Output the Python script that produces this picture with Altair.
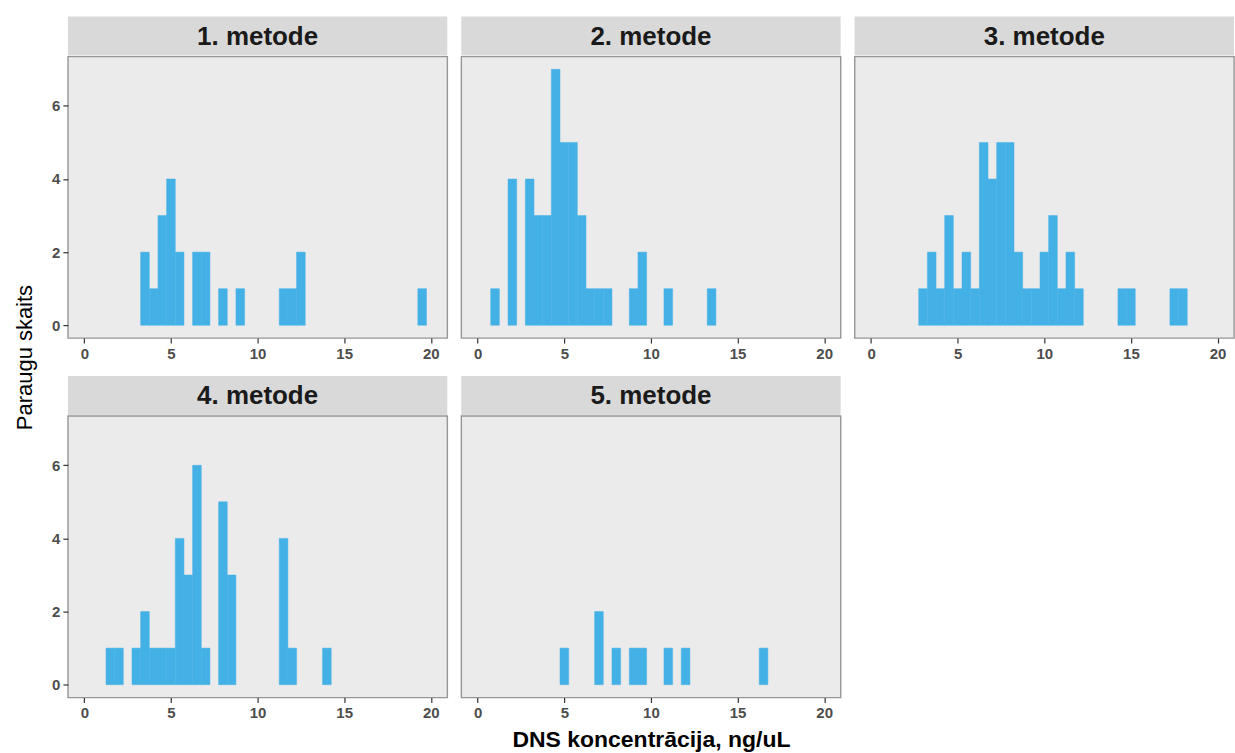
import altair as alt
import pandas as pd

FONT = "Liberation Sans"
BAR_COLOR = "#44B1E6"
W = 380
H = 282
BIN_HALF = 0.25

methods = ["1. metode", "2. metode", "3. metode", "4. metode", "5. metode"]

# histogram bin centres (ng/uL) and counts
centers_1 = [3.5, 4.0, 4.5, 5.0, 5.5, 6.5, 7.0, 8.0, 9.0, 11.5, 12.0, 12.5, 19.5]
counts_1 = [2, 1, 3, 4, 2, 2, 2, 1, 1, 1, 1, 2, 1]

centers_2 = [1.0, 2.0, 3.0, 3.5, 4.0, 4.5, 5.0, 5.5, 6.0, 6.5, 7.0, 7.5, 9.0, 9.5, 11.0, 13.5]
counts_2 = [1, 4, 4, 3, 3, 7, 5, 5, 3, 1, 1, 1, 1, 2, 1, 1]

centers_3 = [3.0, 3.5, 4.0, 4.5, 5.0, 5.5, 6.0, 6.5, 7.0, 7.5, 8.0, 8.5, 9.0, 9.5,
             10.0, 10.5, 11.0, 11.5, 12.0, 14.5, 15.0, 17.5, 18.0]
counts_3 = [1, 2, 1, 3, 1, 2, 1, 5, 4, 5, 5, 2, 1, 1, 2, 3, 1, 2, 1, 1, 1, 1, 1]

centers_4 = [1.5, 2.0, 3.0, 3.5, 4.0, 4.5, 5.0, 5.5, 6.0, 6.5, 7.0, 8.0, 8.5, 11.5, 12.0, 14.0]
counts_4 = [1, 1, 1, 2, 1, 1, 1, 4, 3, 6, 1, 5, 3, 4, 1, 1]

centers_5 = [5.0, 7.0, 8.0, 9.0, 9.5, 11.0, 12.0, 16.5]
counts_5 = [1, 2, 1, 1, 1, 1, 1, 1]

x_ticks = [0, 5, 10, 15, 20]
y_ticks = [0, 2, 4, 6]

all_centers = [centers_1, centers_2, centers_3, centers_4, centers_5]
all_counts = [counts_1, counts_2, counts_3, counts_4, counts_5]

x_scale = alt.Scale(domain=[-0.95, 20.95], nice=False, zero=False)
y_scale = alt.Scale(domain=[-0.35, 7.35], nice=False, zero=False)


def panel(i, show_y, y_title, x_title):
    df = pd.DataFrame({"center": all_centers[i], "count": all_counts[i]})
    x_axis = alt.Axis(values=x_ticks, title=x_title, titleX=W / 2, titleY=42,
                      titleAlign="center", titleBaseline="middle",
                      titleFontSize=23, titleFontWeight="bold", titleColor="#000000",
                      titleFont=FONT) if x_title else alt.Axis(values=x_ticks, title=None)
    if show_y:
        y_axis = alt.Axis(values=y_ticks, title=y_title, titleX=-43, titleY=H + 19,
                          titleAngle=270, titleAlign="center", titleBaseline="middle",
                          titleFontSize=22, titleFontWeight="normal", titleColor="#000000",
                          titleFont=FONT) if y_title else alt.Axis(values=y_ticks, title=None)
    else:
        y_axis = None
    bars = alt.Chart(df).transform_calculate(
        lo=f"datum.center - {BIN_HALF}", hi=f"datum.center + {BIN_HALF}"
    ).mark_rect(color=BAR_COLOR, stroke=BAR_COLOR, strokeWidth=0.5).encode(
        x=alt.X("lo:Q", scale=x_scale, axis=x_axis),
        x2="hi:Q",
        y=alt.Y("count:Q", scale=y_scale, axis=y_axis),
        y2=alt.datum(0),
    )
    strip_data = alt.Data(values=[{"label": methods[i]}])
    strip = alt.Chart(strip_data).mark_rect(color="#D9D9D9").encode(
        x=alt.value(0), x2=alt.value(W), y=alt.value(-40), y2=alt.value(-1)
    )
    label = alt.Chart(strip_data).mark_text(
        font=FONT, fontSize=26, fontWeight="bold", color="#1A1A1A", baseline="middle", align="center"
    ).encode(x=alt.value(W / 2), y=alt.value(-20), text="label:N")
    return alt.layer(strip, label, bars).properties(width=W, height=H)


p1 = panel(0, True, "Paraugu skaits", None)
p2 = panel(1, False, None, None)
p3 = panel(2, False, None, None)
p4 = panel(3, True, None, None)
p5 = panel(4, False, None, "DNS koncentrācija, ng/uL")

chart = alt.concat(p1, p2, p3, p4, p5, columns=3, spacing={"row": 78, "column": 14},
                   bounds="flush").properties(
    padding={"left": 13, "top": 15, "right": 0, "bottom": 0},
    background="#FFFFFF",
).configure_view(
    fill="#EBEBEB", stroke="#969696", strokeWidth=1.4
).configure_axis(
    grid=False, domain=False, tickColor="#333333", tickSize=5, tickWidth=1.2,
    labelColor="#4D4D4D", labelFontSize=15, labelFontWeight="bold", labelFont=FONT,
    labelPadding=3
)

chart.save("out.html", embed_options={"renderer": "svg", "actions": False})
